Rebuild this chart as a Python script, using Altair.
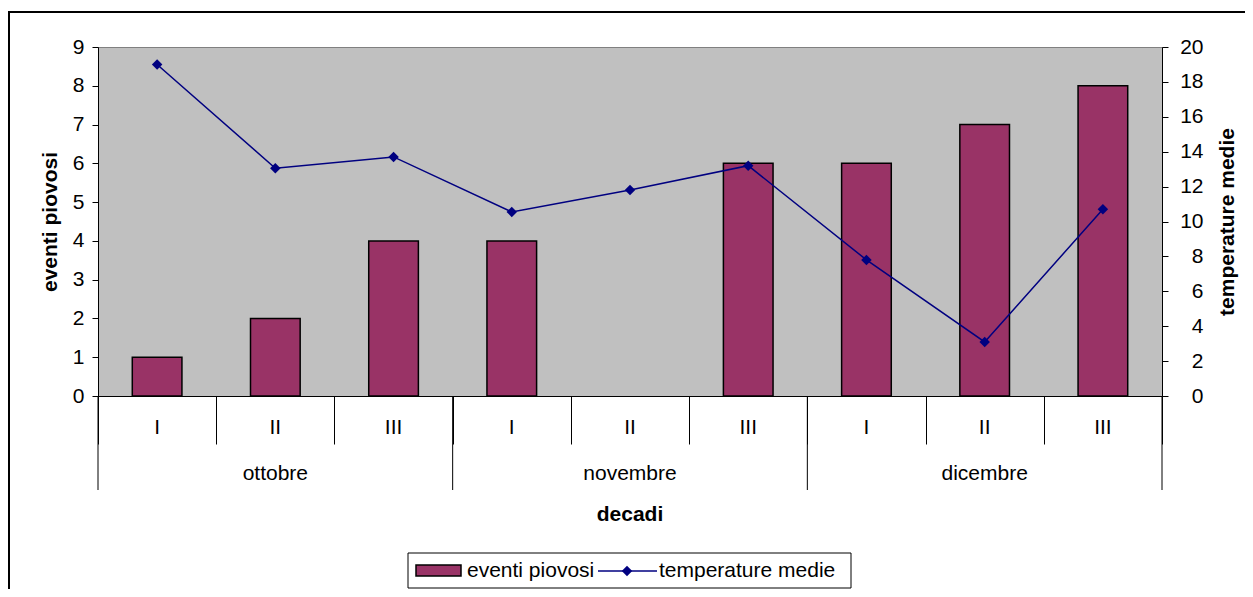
import altair as alt
import pandas as pd

mesi = ["ottobre", "novembre", "dicembre"]
decadi = ["I", "II", "III"]
eventi_piovosi = [1, 2, 4, 4, 0, 6, 6, 7, 8]
temperature_medie = [19.0, 13.05, 13.7, 10.55, 11.8, 13.2, 7.8, 3.1, 10.7]

rows = []
for m_i, m in enumerate(mesi):
    for d_i, d in enumerate(decadi):
        i = m_i * 3 + d_i
        rows.append(dict(idx=i, mese=m, decade=d,
                         eventi=eventi_piovosi[i], temp=temperature_medie[i]))
df = pd.DataFrame(rows)
df_mesi = pd.DataFrame({"mese": mesi, "mid": [k * 3 + 1.5 for k in range(len(mesi))]})
df_conf = pd.DataFrame({"b": [k * 3 for k in range(len(mesi) + 1)]})
dummy = pd.DataFrame({"a": [0]})

FONT = "Liberation Sans"
FS = 21
W, H = 1064, 349
BAR = "#993366"
NAVY = "#000080"

xs = alt.Scale(domain=[0, 9], nice=False, zero=False)
xaxis = alt.Axis(values=list(range(10)), tickSize=48, labels=False, title=None,
                 domainColor="black", tickColor="black", grid=False)

bars = alt.Chart(df).transform_filter("datum.eventi > 0").transform_calculate(
    x0="datum.idx + 0.5 - 0.21", x1="datum.idx + 0.5 + 0.21", base="0"
).mark_bar(fill=BAR, stroke="black", strokeWidth=1.5).encode(
    x=alt.X("x0:Q", scale=xs, axis=xaxis),
    x2="x1:Q",
    y=alt.Y("eventi:Q", scale=alt.Scale(domain=[0, 9], nice=False),
            axis=alt.Axis(values=list(range(10)), title="eventi piovosi", grid=False,
                          tickSize=6, labelPadding=8, titlePadding=12,
                          domainColor="black", tickColor="black")),
    y2="base:Q",
)

line = alt.Chart(df).transform_calculate(c="datum.idx + 0.5").mark_line(
    color=NAVY, strokeWidth=1.5,
    point=alt.OverlayMarkDef(shape="diamond", size=110, filled=True, color=NAVY),
).encode(
    x=alt.X("c:Q", scale=xs, axis=xaxis),
    y=alt.Y("temp:Q", scale=alt.Scale(domain=[0, 20], nice=False),
            axis=alt.Axis(orient="right", values=list(range(0, 21, 2)), title="temperature medie",
                          grid=False, tickSize=6, labelAlign="right", labelPadding=35,
                          titlePadding=34, titleAngle=270,
                          domainColor="black", tickColor="black")),
)

dec_labels = alt.Chart(df).transform_calculate(c="datum.idx + 0.5").mark_text(
    fontSize=FS, font=FONT, baseline="middle", color="black"
).encode(x=alt.X("c:Q", scale=xs, axis=xaxis), y=alt.value(H + 32), text="decade:N")

month_labels = alt.Chart(df_mesi).mark_text(
    fontSize=FS, font=FONT, baseline="middle", color="black"
).encode(x=alt.X("mid:Q", scale=xs, axis=xaxis), y=alt.value(H + 78), text="mese:N")

month_rules = alt.Chart(df_conf).mark_rule(color="black", strokeWidth=1).encode(
    x=alt.X("b:Q", scale=xs, axis=xaxis), y=alt.value(H), y2=alt.value(H + 94)
)

x_title = alt.Chart(dummy).mark_text(
    text="decadi", fontSize=FS, fontWeight="bold", font=FONT, baseline="middle", color="black"
).encode(x=alt.value(W / 2), y=alt.value(468))

frame = alt.Chart(dummy).mark_rect(fill=None, stroke="black", strokeWidth=2).encode(
    x=alt.value(-89), x2=alt.value(1200), y=alt.value(-35), y2=alt.value(620)
)

LY = 524
leg_box = alt.Chart(dummy).mark_rect(fill="white", stroke="black", strokeWidth=1).encode(
    x=alt.value(310), x2=alt.value(753), y=alt.value(506), y2=alt.value(541)
)
leg_sw = alt.Chart(dummy).mark_rect(fill=BAR, stroke="black", strokeWidth=1.5).encode(
    x=alt.value(318), x2=alt.value(363), y=alt.value(LY - 6), y2=alt.value(LY + 5)
)
leg_t1 = alt.Chart(dummy).mark_text(
    text="eventi piovosi", fontSize=FS, font=FONT, align="left", baseline="middle", color="black"
).encode(x=alt.value(369), y=alt.value(LY))
leg_line = alt.Chart(dummy).mark_rule(color=NAVY, strokeWidth=1.5).encode(
    x=alt.value(500), x2=alt.value(559), y=alt.value(LY)
)
leg_pt = alt.Chart(dummy).mark_point(shape="diamond", size=110, filled=True, color=NAVY, opacity=1).encode(
    x=alt.value(529), y=alt.value(LY)
)
leg_t2 = alt.Chart(dummy).mark_text(
    text="temperature medie", fontSize=FS, font=FONT, align="left", baseline="middle", color="black"
).encode(x=alt.value(561), y=alt.value(LY))

chart = alt.layer(
    frame, bars, line, month_rules, dec_labels, month_labels, x_title,
    leg_box, leg_sw, leg_t1, leg_line, leg_pt, leg_t2
).resolve_scale(y="independent").properties(
    width=W, height=H,
    autosize=alt.AutoSizeParams(type="none"),
    padding={"left": 90, "top": 39, "right": 83, "bottom": 193},
    background="white",
).configure_view(
    fill="#C0C0C0", stroke="#808080", strokeWidth=1
).configure_axis(
    labelFont=FONT, titleFont=FONT, labelFontSize=FS, titleFontSize=FS,
    labelColor="black", titleColor="black", titleFontWeight="bold"
)

chart.save("out.html", embed_options={"renderer": "svg", "actions": False})
